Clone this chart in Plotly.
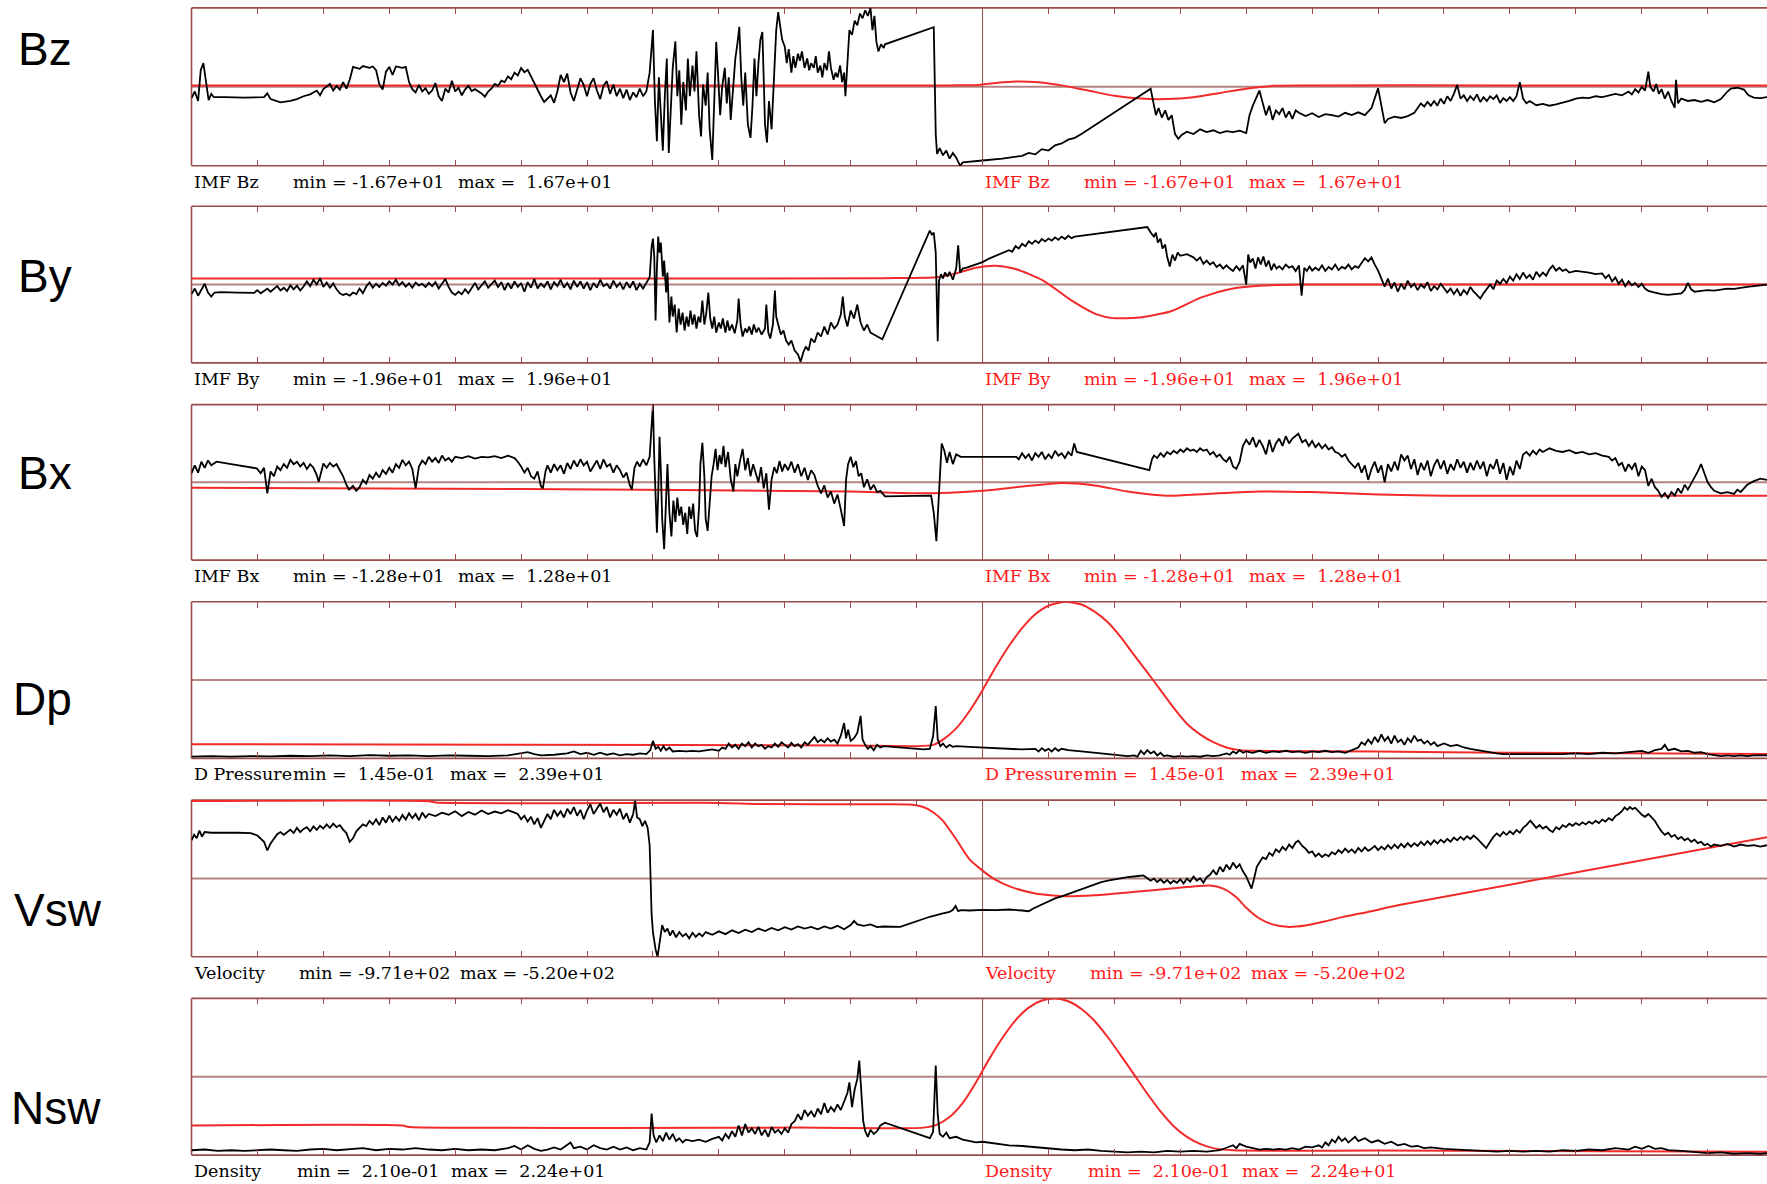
import plotly.graph_objects as go

# ---------------------------------------------------------------------------
# Time axis: hours from the start of the interval (one tick per hour).
# Black = observed upstream solar wind, red = propagated model values.
# ---------------------------------------------------------------------------
T_MAX = 23.9
T_MARK = 12.0

bz_obs = [(0.00,-2.4),(0.05,-1.0),(0.10,-3.0),(0.14,3.5),(0.18,5.0),(0.22,1.0),(0.26,-2.8),(0.30,-1.5),(0.34,-2.2),
    (0.5,-2.2),(0.8,-2.3),(1.1,-2.2),(1.15,-1.4),(1.2,-2.6),(1.35,-3.3),(1.5,-3.0),(1.6,-2.6),(1.7,-2.0),(1.8,-1.6),
    (1.9,-0.8),(1.95,-1.8),(2.0,-0.5),(2.1,0.6),(2.15,-0.8),(2.2,0.2),(2.25,-0.6),(2.3,1.0),(2.35,-0.4),(2.4,1.5),
    (2.45,4.2),(2.55,3.8),(2.6,4.4),(2.7,4.0),(2.75,4.3),(2.8,3.5),(2.85,0.5),(2.9,-0.6),(2.95,3.2),(3.0,4.2),(3.05,2.5),
    (3.1,4.3),(3.2,4.0),(3.25,4.2),(3.3,1.0),(3.35,-0.5),(3.4,-1.2),(3.45,0.4),(3.5,-1.0),(3.55,-0.3),(3.6,-1.5),
    (3.65,-0.8),(3.7,0.8),(3.75,-2.0),(3.8,-3.0),(3.85,-0.4),(3.9,-1.2),(3.95,1.3),(4.0,-1.0),(4.05,-0.2),(4.1,-1.8),
    (4.15,-0.6),(4.2,0.2),(4.25,-0.9),(4.3,-0.5),(4.4,-1.4),(4.45,-2.1),(4.5,-1.0),(4.55,-0.4),(4.6,0.6),(4.65,0.2),
    (4.7,1.3),(4.75,1.0),(4.8,2.2),(4.85,1.6),(4.9,3.0),(4.95,2.4),(5.0,4.0),(5.05,3.1),(5.1,3.6),(5.15,2.2),(5.2,0.8),
    (5.25,-0.8),(5.3,-2.0),(5.35,-3.2),(5.4,-2.6),(5.45,-1.8),(5.5,-3.4),(5.55,-1.0),(5.6,2.5),(5.65,1.0),(5.7,2.8),
    (5.75,-1.2),(5.8,-3.0),(5.85,-0.5),(5.9,1.8),(5.95,0.4),(6.0,-2.0),(6.05,0.6),(6.1,1.8),(6.15,-0.8),(6.2,-2.6),
    (6.25,0.2),(6.3,1.2),(6.35,-1.5),(6.4,0.5),(6.45,-2.0),(6.5,-0.4),(6.55,-2.4),(6.6,-0.6),(6.65,-2.8),(6.7,-1.2),
    (6.75,-2.2),(6.8,-0.4),(6.85,-2.0),(6.9,-1.0),(6.95,3.0),
    (7.0,12.0),(7.03,-3.0),(7.06,-11.5),(7.09,2.0),(7.12,-6.0),(7.15,-13.5),(7.18,-2.0),(7.21,6.0),(7.24,-14.0),
    (7.27,-4.0),(7.30,4.0),(7.34,9.6),(7.37,-2.0),(7.40,3.5),(7.43,-8.0),(7.46,1.0),(7.50,-5.0),(7.53,6.0),(7.56,-2.0),
    (7.60,4.5),(7.63,-1.0),(7.66,7.5),(7.70,-6.0),(7.73,-10.5),(7.76,0.5),(7.80,-4.0),(7.83,3.0),(7.86,-9.0),
    (7.90,-15.5),(7.93,-3.0),(7.96,9.5),(7.99,2.0),(8.02,-6.0),(8.05,0.0),(8.09,4.0),(8.12,-3.5),(8.15,2.0),(8.18,-7.0),
    (8.21,-2.0),(8.25,6.0),(8.28,9.0),(8.31,12.7),(8.34,2.0),(8.37,-4.0),(8.40,3.0),(8.44,-8.0),(8.48,-10.8),
    (8.51,-4.0),(8.54,6.0),(8.57,-2.0),(8.60,5.0),(8.63,10.0),(8.66,11.6),(8.70,-8.0),(8.73,-11.8),(8.76,-3.0),
    (8.80,-9.0),(8.84,2.0),(8.87,12.0),(8.90,15.8),
    (8.93,13.0),(8.96,10.0),(9.0,8.5),(9.03,5.0),(9.06,8.0),(9.1,3.0),(9.13,6.5),(9.16,4.0),(9.2,7.0),(9.23,5.5),
    (9.26,7.5),(9.3,4.0),(9.34,6.0),(9.37,3.5),(9.4,5.0),(9.44,4.0),(9.47,6.5),(9.5,3.0),(9.54,4.5),(9.57,2.0),
    (9.6,5.0),(9.64,3.5),(9.67,7.5),(9.7,4.0),(9.74,1.5),(9.77,3.0),(9.8,2.0),(9.84,4.5),(9.87,1.0),(9.9,3.0),
    (9.92,-2.0),(9.95,6.0),(9.98,12.0),(10.02,11.0),(10.06,14.0),(10.1,13.0),(10.14,15.5),(10.18,14.5),(10.22,16.2),
    (10.26,15.0),(10.3,16.7),(10.33,12.0),(10.36,15.0),(10.39,9.5),(10.42,7.5),(10.46,9.0),(10.5,8.2),(10.52,9.0),
    (11.26,12.6),(11.29,-10.0),(11.31,-14.2),(11.35,-13.0),(11.4,-14.5),(11.45,-13.5),(11.5,-15.2),(11.55,-14.0),
    (11.6,-15.0),(11.66,-16.7),(11.7,-16.0),(12.0,-15.6),(12.3,-15.2),(12.6,-14.6),(12.7,-14.0),(12.8,-14.3),
    (12.9,-13.2),(13.0,-13.5),(13.1,-12.4),(13.2,-12.0),(13.3,-11.2),(13.4,-10.8),(13.5,-10.0),(14.55,-0.4),
    (14.6,-4.0),(14.63,-6.0),(14.67,-4.5),(14.72,-6.5),(14.77,-5.0),(14.82,-7.0),(14.87,-6.0),(14.92,-10.0),
    (14.97,-11.0),(15.02,-10.2),(15.1,-9.5),(15.2,-10.0),(15.3,-9.0),(15.4,-9.6),(15.5,-9.2),(15.6,-9.8),(15.7,-9.4),
    (15.8,-9.6),(15.9,-9.3),(16.0,-9.8),(16.05,-6.0),(16.1,-4.0),(16.2,-0.8),(16.25,-3.5),(16.3,-6.0),(16.35,-4.0),
    (16.4,-7.0),(16.45,-5.0),(16.5,-5.8),(16.55,-4.5),(16.6,-6.5),(16.65,-5.2),(16.7,-6.8),(16.75,-5.0),(16.8,-5.5),
    (16.9,-6.2),(17.0,-5.6),(17.1,-6.4),(17.2,-5.8),(17.3,-6.0),(17.4,-6.3),(17.5,-5.5),(17.6,-6.0),(17.7,-5.4),
    (17.8,-6.0),(17.9,-4.5),(18.0,-0.3),(18.05,-4.0),(18.1,-7.7),(18.15,-6.8),(18.25,-6.3),(18.35,-6.6),(18.45,-6.2),
    (18.55,-5.5),(18.6,-4.5),(18.65,-3.5),(18.7,-4.2),(18.75,-3.2),(18.8,-4.0),(18.85,-3.0),(18.9,-4.0),(18.95,-2.5),
    (19.0,-3.6),(19.05,-2.0),(19.1,-3.0),(19.15,-1.5),(19.2,0.4),(19.25,-2.5),(19.3,-1.8),(19.35,-3.0),(19.4,-2.0),
    (19.45,-2.8),(19.5,-1.6),(19.55,-3.2),(19.6,-2.2),(19.65,-3.0),(19.7,-2.0),(19.75,-2.6),(19.8,-1.8),(19.85,-3.4),
    (19.9,-2.4),(19.95,-3.0),(20.0,-2.2),(20.05,-3.0),(20.1,-2.0),(20.15,1.0),(20.2,-2.5),(20.25,-3.5),(20.3,-3.0),
    (20.4,-3.9),(20.5,-3.6),(20.6,-4.0),(20.7,-3.7),(20.8,-3.4),(20.9,-3.0),(21.0,-2.5),(21.1,-2.3),(21.2,-2.4),
    (21.3,-2.0),(21.4,-2.2),(21.5,-1.8),(21.6,-1.5),(21.7,-1.8),(21.8,-1.0),(21.85,-1.6),(21.9,-0.5),(21.95,-1.2),
    (22.0,0.0),(22.05,-0.8),(22.1,3.2),(22.13,0.0),(22.18,-1.0),(22.22,0.6),(22.26,-1.5),(22.3,-0.5),(22.35,-2.5),
    (22.4,-1.0),(22.45,-3.0),(22.5,-4.4),(22.52,1.5),(22.55,-3.5),(22.6,-2.5),(22.7,-3.0),(22.8,-2.8),(22.9,-3.2),
    (23.0,-2.8),(23.1,-3.3),(23.2,-2.6),(23.3,-1.0),(23.35,-0.4),(23.45,-0.2),(23.55,-0.6),(23.62,-1.8),(23.7,-2.3),
    (23.8,-2.4),(23.9,-2.2)]

bz_model = [(0,0.3),(6,0.3),(11.5,0.3),(11.9,0.35),(12.2,0.8),(12.5,1.1),(12.8,1.0),(13.2,0.3),(13.6,-0.8),
    (14.0,-1.9),(14.4,-2.5),(14.8,-2.6),(15.2,-2.2),(15.6,-1.3),(16.0,-0.4),(16.4,0.2),(16.8,0.3),(20,0.3),(23.9,0.3)]

by_obs = [(0.0,-2.4),(0.05,-1.0),(0.1,-2.8),(0.15,-1.2),(0.2,0.2),(0.25,-2.0),(0.3,-3.0),(0.35,-2.0),(0.45,-1.9),
    (0.7,-2.0),(0.95,-2.1),(1.0,-1.4),(1.05,-2.2),(1.1,-1.6),(1.15,-1.0),(1.2,-1.8),(1.25,-1.2),(1.3,-0.4),(1.35,-1.5),
    (1.4,-0.8),(1.45,-1.6),(1.5,-0.2),(1.55,-1.2),(1.6,-0.3),(1.65,-1.5),(1.7,-0.5),(1.75,0.8),(1.8,-0.4),(1.85,1.2),
    (1.9,0.0),(1.95,1.6),(2.0,-0.6),(2.05,0.5),(2.1,-0.8),(2.15,0.3),(2.2,-1.2),(2.25,-2.2),(2.3,-2.6),(2.35,-2.3),
    (2.4,-2.8),(2.45,-2.0),(2.5,-2.4),(2.55,-1.0),(2.6,-2.2),(2.65,-0.5),(2.7,0.5),(2.75,-0.8),(2.8,0.2),(2.85,-0.6),
    (2.9,0.4),(2.95,-0.3),(3.0,0.8),(3.05,0.0),(3.1,1.2),(3.15,-0.2),(3.2,0.6),(3.25,-0.5),(3.3,0.3),(3.35,-0.8),
    (3.4,0.5),(3.45,-0.2),(3.5,0.2),(3.55,-0.6),(3.6,0.4),(3.65,-0.4),(3.7,0.6),(3.75,-1.0),(3.8,0.2),(3.85,1.4),
    (3.9,-0.6),(3.95,-2.0),(4.0,-2.6),(4.05,-1.8),(4.1,-2.4),(4.15,-1.2),(4.2,-2.2),(4.25,-1.0),(4.3,0.4),(4.35,-1.2),
    (4.4,-0.2),(4.45,0.8),(4.5,-0.8),(4.55,0.2),(4.6,1.0),(4.65,-0.6),(4.7,0.6),(4.75,-1.4),(4.8,0.4),(4.85,-1.0),
    (4.9,0.8),(4.95,-0.6),(5.0,0.4),(5.05,-1.8),(5.1,0.6),(5.15,-0.8),(5.2,1.4),(5.25,-1.0),(5.3,0.2),(5.35,-0.6),
    (5.4,0.8),(5.45,-1.2),(5.5,0.6),(5.55,-0.4),(5.6,1.2),(5.65,-0.8),(5.7,0.4),(5.75,-1.2),(5.8,1.0),(5.85,-0.6),
    (5.9,0.8),(5.95,-1.0),(6.0,0.6),(6.05,-1.4),(6.1,0.4),(6.15,-0.8),(6.2,1.2),(6.25,-0.4),(6.3,0.2),(6.35,-1.0),
    (6.4,1.0),(6.45,-0.6),(6.5,0.4),(6.55,-1.2),(6.6,0.6),(6.65,-0.8),(6.7,0.8),(6.75,-1.4),(6.8,0.2),(6.85,-1.0),
    (6.9,0.6),(6.95,1.8),(6.98,9.5),(7.0,11.5),(7.02,7.0),(7.04,-9.0),(7.06,4.0),(7.08,12.0),(7.1,8.0),(7.12,10.5),
    (7.15,2.0),(7.17,6.0),(7.2,-2.0),(7.22,3.0),(7.25,-9.5),(7.28,-3.0),(7.3,-8.0),(7.33,-5.0),(7.36,-12.0),(7.39,-6.0),
    (7.42,-10.0),(7.45,-7.0),(7.48,-11.5),(7.51,-8.0),(7.54,-10.5),(7.57,-6.5),(7.6,-10.0),(7.63,-7.5),(7.66,-11.0),
    (7.69,-8.0),(7.72,-9.5),(7.75,-4.0),(7.78,-10.0),(7.81,-7.0),(7.84,-2.0),(7.87,-8.5),(7.9,-11.0),(7.93,-8.0),
    (7.96,-12.0),(8.0,-9.5),(8.03,-11.0),(8.06,-8.5),(8.1,-12.0),(8.13,-9.0),(8.16,-11.5),(8.2,-10.0),(8.24,-12.2),
    (8.28,-9.0),(8.3,-3.5),(8.33,-10.0),(8.36,-13.0),(8.4,-11.0),(8.43,-12.0),(8.46,-10.5),(8.5,-12.5),(8.53,-10.0),
    (8.57,-12.0),(8.6,-10.8),(8.65,-12.5),(8.7,-11.0),(8.72,-5.0),(8.75,-12.0),(8.78,-13.5),(8.82,-10.0),(8.85,-1.5),
    (8.87,-8.0),(8.9,-10.0),(8.94,-12.5),(8.98,-11.5),(9.02,-14.0),(9.06,-15.0),(9.1,-14.0),(9.15,-16.5),(9.2,-17.5),
    (9.24,-19.3),(9.28,-17.0),(9.32,-15.5),(9.36,-16.5),(9.4,-13.5),(9.45,-14.5),(9.5,-12.0),(9.55,-13.0),(9.6,-10.5),
    (9.65,-12.5),(9.7,-9.5),(9.75,-11.0),(9.8,-10.0),(9.85,-7.5),(9.88,-3.0),(9.91,-8.0),(9.95,-10.5),(10.0,-6.5),
    (10.05,-8.5),(10.1,-5.0),(10.15,-9.5),(10.2,-11.5),(10.25,-10.0),(10.3,-12.0),(10.35,-12.5),(10.4,-13.0),
    (10.48,-13.7),(11.2,13.5),(11.23,12.5),(11.26,13.0),(11.29,8.0),(11.32,-14.2),(11.34,1.0),(11.37,2.6),(11.4,1.5),
    (11.43,3.0),(11.47,2.0),(11.5,3.2),(11.55,1.2),(11.6,4.0),(11.63,9.8),(11.66,3.0),(11.7,4.0),(11.77,4.3),
    (11.9,5.0),(12.0,5.6),(12.1,6.5),(12.2,7.2),(12.3,7.8),(12.4,8.6),(12.45,8.2),(12.5,9.6),(12.55,9.0),(12.6,10.2),
    (12.65,9.6),(12.7,10.8),(12.75,10.2),(12.8,11.0),(12.85,10.4),(12.9,11.4),(12.95,10.8),(13.0,11.5),(13.05,11.0),
    (13.1,11.8),(13.15,11.2),(13.2,12.0),(13.25,11.4),(13.3,12.2),(13.35,11.6),(13.4,12.0),(14.5,14.4),(14.55,13.0),
    (14.6,12.0),(14.63,13.0),(14.66,10.5),(14.7,11.5),(14.73,9.0),(14.77,10.0),(14.8,7.0),(14.84,4.5),(14.88,7.5),
    (14.92,6.0),(14.96,8.0),(15.0,7.2),(15.1,7.6),(15.2,6.8),(15.25,6.0),(15.3,6.8),(15.35,5.2),(15.4,6.0),(15.45,5.0),
    (15.5,5.6),(15.55,4.4),(15.6,5.0),(15.65,4.0),(15.7,4.8),(15.75,4.0),(15.8,3.4),(15.85,4.6),(15.9,3.6),(15.95,4.8),
    (16.0,0.0),(16.03,7.5),(16.06,5.5),(16.1,6.5),(16.14,4.0),(16.18,6.8),(16.22,5.0),(16.26,7.0),(16.3,4.5),(16.34,6.0),
    (16.38,3.6),(16.42,5.2),(16.46,4.0),(16.5,4.6),(16.55,3.8),(16.6,5.0),(16.65,4.2),(16.7,4.6),(16.75,3.4),(16.8,4.8),
    (16.84,-2.8),(16.88,4.2),(16.92,3.4),(16.96,4.5),(17.0,3.5),(17.05,4.2),(17.1,3.6),(17.15,4.8),(17.2,3.4),
    (17.25,4.4),(17.3,3.8),(17.35,5.0),(17.4,3.6),(17.45,4.4),(17.5,4.0),(17.55,5.0),(17.6,3.8),(17.65,4.6),(17.7,4.2),
    (17.75,5.4),(17.8,6.6),(17.85,5.8),(17.9,6.8),(17.95,5.0),(18.0,3.5),(18.05,1.5),(18.1,-0.5),(18.15,1.5),
    (18.2,-1.0),(18.25,0.5),(18.3,-1.8),(18.35,0.2),(18.4,-1.2),(18.45,1.0),(18.5,-0.6),(18.55,0.2),(18.6,-1.4),
    (18.65,0.0),(18.7,-0.8),(18.75,0.6),(18.8,-1.6),(18.85,-0.4),(18.9,-1.2),(18.95,0.2),(19.0,-0.8),(19.05,-2.0),
    (19.1,-1.0),(19.15,-2.4),(19.2,-1.2),(19.25,-2.8),(19.3,-1.4),(19.35,-2.4),(19.4,-0.6),(19.45,-1.8),(19.5,-2.6),
    (19.55,-3.5),(19.6,-2.2),(19.65,-1.0),(19.7,0.0),(19.75,-1.2),(19.8,1.0),(19.85,0.2),(19.9,1.4),(19.95,0.4),
    (20.0,2.0),(20.05,1.0),(20.1,2.6),(20.15,1.4),(20.2,3.0),(20.25,1.6),(20.3,2.4),(20.35,1.2),(20.4,3.2),(20.45,2.0),
    (20.5,3.0),(20.55,2.2),(20.6,3.8),(20.65,4.7),(20.7,3.5),(20.75,4.2),(20.8,3.4),(20.85,3.8),(20.9,3.0),(21.0,3.4),
    (21.1,3.2),(21.2,3.0),(21.3,2.6),(21.4,2.8),(21.45,1.6),(21.5,2.4),(21.55,0.8),(21.6,1.8),(21.65,0.2),(21.7,1.2),
    (21.75,-0.4),(21.8,0.8),(21.85,-0.2),(21.9,0.4),(21.95,-0.6),(22.0,0.2),(22.05,-1.0),(22.1,-1.6),(22.2,-2.0),
    (22.3,-2.4),(22.4,-2.6),(22.5,-2.4),(22.6,-2.2),(22.65,-1.4),(22.7,0.4),(22.75,-1.2),(22.8,-1.8),(22.9,-1.6),
    (23.0,-1.4),(23.1,-1.5),(23.2,-1.2),(23.3,-1.0),(23.4,-1.1),(23.5,-0.8),(23.6,-0.6),(23.7,-0.4),(23.8,-0.2),
    (23.9,0.0)]

by_model = [(0,1.5),(6,1.5),(10.5,1.6),(11.3,1.8),(11.6,2.8),(11.9,4.2),(12.2,4.7),(12.5,3.9),(12.92,1.0),
    (13.36,-4.1),(13.72,-7.4),(13.98,-8.4),(14.42,-8.2),(14.87,-6.6),(15.32,-3.2),(15.76,-1.1),(16.2,-0.3),
    (16.8,0.0),(20,0.0),(23.9,0.0)]

bx_obs = [(0.0,1.5),(0.05,2.8),(0.1,1.6),(0.15,3.4),(0.2,2.4),(0.25,3.6),(0.3,2.8),(0.38,3.4),(0.6,3.0),(0.85,2.6),
    (0.99,2.3),(1.05,1.5),(1.1,2.4),(1.15,-1.8),(1.2,1.8),(1.25,1.0),(1.3,2.6),(1.35,2.0),(1.4,3.0),(1.45,2.4),
    (1.5,3.7),(1.55,3.0),(1.6,3.4),(1.65,2.6),(1.7,3.2),(1.75,2.2),(1.8,3.0),(1.85,2.4),(1.9,1.2),(1.93,0.1),(1.97,2.0),
    (2.0,3.1),(2.05,2.4),(2.1,3.2),(2.15,2.6),(2.2,3.0),(2.25,2.0),(2.3,1.0),(2.35,-0.4),(2.39,-1.2),(2.45,-0.6),
    (2.5,-1.4),(2.55,-0.8),(2.6,0.4),(2.65,-0.2),(2.7,1.2),(2.75,0.6),(2.8,1.6),(2.85,0.8),(2.9,2.0),(2.95,1.4),
    (3.0,2.4),(3.05,1.6),(3.1,3.0),(3.15,2.4),(3.2,3.7),(3.25,2.8),(3.3,3.4),(3.35,2.2),(3.4,-1.0),(3.45,2.6),(3.5,3.6),
    (3.55,3.0),(3.6,4.2),(3.65,3.4),(3.7,4.0),(3.75,3.2),(3.8,4.4),(3.85,3.6),(3.9,4.0),(3.95,3.4),(4.0,4.2),(4.1,4.0),
    (4.2,4.3),(4.3,3.9),(4.4,4.2),(4.5,4.1),(4.6,4.3),(4.7,4.0),(4.8,4.4),(4.9,4.0),(4.95,3.4),(5.0,2.6),(5.05,1.6),
    (5.1,2.4),(5.15,1.0),(5.2,0.6),(5.25,1.8),(5.3,-0.6),(5.33,-1.0),(5.37,1.8),(5.4,2.8),(5.45,1.6),(5.5,3.0),
    (5.55,2.0),(5.6,2.8),(5.65,1.4),(5.7,3.2),(5.75,2.2),(5.8,3.6),(5.85,2.6),(5.9,3.8),(5.95,2.8),(6.0,3.4),(6.05,1.8),
    (6.1,2.6),(6.15,3.6),(6.2,2.2),(6.25,3.8),(6.3,2.6),(6.35,3.0),(6.4,1.6),(6.45,2.8),(6.5,2.0),(6.55,0.8),(6.6,1.6),
    (6.65,-0.5),(6.68,-1.2),(6.72,2.4),(6.76,3.4),(6.8,2.6),(6.85,3.8),(6.9,2.8),(6.95,4.2),(6.98,9.0),(7.0,12.8),
    (7.02,4.0),(7.04,-4.0),(7.06,-8.3),(7.08,-2.0),(7.1,7.5),(7.12,2.0),(7.14,-6.0),(7.17,-11.0),(7.2,-4.0),(7.22,3.0),
    (7.25,-5.0),(7.28,-8.9),(7.31,-3.0),(7.34,-6.5),(7.37,-2.5),(7.4,-5.5),(7.43,-4.0),(7.46,-7.0),(7.49,-5.0),
    (7.52,-8.5),(7.55,-4.0),(7.58,-6.0),(7.61,-3.5),(7.64,-8.0),(7.67,-9.0),(7.7,-4.0),(7.72,3.0),(7.75,6.5),(7.78,1.0),
    (7.8,-6.0),(7.83,-8.0),(7.86,-3.0),(7.89,1.0),(7.92,3.0),(7.95,5.5),(7.98,2.0),(8.01,4.5),(8.04,3.0),(8.07,6.0),
    (8.1,2.5),(8.14,5.0),(8.18,0.5),(8.22,-1.5),(8.25,3.0),(8.28,1.0),(8.32,3.5),(8.36,5.5),(8.4,2.0),(8.44,4.0),
    (8.48,1.0),(8.52,3.0),(8.56,1.5),(8.6,0.0),(8.64,2.5),(8.68,-1.0),(8.72,1.5),(8.76,-4.5),(8.8,0.5),(8.84,2.5),
    (8.88,1.5),(8.92,3.5),(8.96,1.8),(9.0,3.0),(9.05,2.0),(9.1,3.4),(9.15,1.6),(9.2,3.0),(9.25,1.0),(9.3,2.4),(9.35,0.4),
    (9.4,2.0),(9.45,1.2),(9.5,-0.6),(9.55,-1.8),(9.6,-0.5),(9.65,-2.5),(9.7,-1.5),(9.75,-3.5),(9.8,-2.0),(9.85,-4.5),
    (9.9,-7.2),(9.93,0.5),(9.96,3.0),(10.0,4.2),(10.04,2.5),(10.08,3.5),(10.12,1.0),(10.16,1.5),(10.2,-0.8),(10.25,0.5),
    (10.3,-1.2),(10.35,-0.4),(10.4,-1.6),(10.45,-1.4),(10.52,-2.3),(11.22,-2.2),(11.26,-5.0),(11.3,-9.7),(11.34,-2.0),
    (11.38,6.4),(11.42,5.2),(11.46,3.2),(11.5,5.0),(11.55,3.0),(11.6,4.6),(11.67,4.2),(12.51,4.2),(12.55,3.8),(12.6,4.8),
    (12.65,4.0),(12.7,4.6),(12.75,3.6),(12.8,4.8),(12.85,4.2),(12.9,5.0),(12.95,3.8),(13.0,4.6),(13.05,4.0),(13.1,5.2),
    (13.15,4.4),(13.2,4.8),(13.25,4.0),(13.3,5.0),(13.35,4.4),(13.39,6.4),(13.43,5.0),(14.53,2.0),(14.57,3.8),(14.6,4.4),
    (14.65,4.0),(14.7,4.8),(14.75,4.2),(14.8,5.0),(14.85,4.6),(14.9,5.2),(14.95,4.8),(15.0,5.4),(15.05,5.0),(15.1,5.6),
    (15.15,5.2),(15.2,5.4),(15.25,5.0),(15.3,5.6),(15.35,5.2),(15.4,5.4),(15.45,4.6),(15.5,5.0),(15.55,4.2),(15.6,4.6),
    (15.65,3.8),(15.7,3.4),(15.75,4.2),(15.8,2.6),(15.85,2.2),(15.9,3.4),(15.95,6.0),(16.0,7.0),(16.05,6.2),(16.1,7.4),
    (16.15,5.8),(16.2,7.0),(16.25,6.0),(16.3,4.6),(16.35,7.0),(16.4,5.0),(16.45,6.4),(16.5,7.2),(16.55,6.0),(16.6,7.6),
    (16.65,6.4),(16.7,7.2),(16.75,7.6),(16.79,8.0),(16.85,6.6),(16.9,7.0),(16.95,6.0),(17.0,6.8),(17.05,5.8),(17.1,6.4),
    (17.15,5.6),(17.2,6.2),(17.25,5.4),(17.3,5.8),(17.35,5.0),(17.4,4.8),(17.45,4.2),(17.5,4.6),(17.55,3.6),(17.6,3.0),
    (17.65,2.4),(17.7,3.2),(17.75,1.6),(17.8,2.8),(17.85,0.4),(17.9,2.2),(17.95,3.4),(18.0,1.6),(18.05,2.8),(18.1,0.0),
    (18.15,3.0),(18.2,1.8),(18.25,3.4),(18.3,2.0),(18.35,4.6),(18.4,3.6),(18.45,4.4),(18.5,2.2),(18.55,3.8),(18.6,1.2),
    (18.65,3.2),(18.7,2.0),(18.75,3.6),(18.8,1.0),(18.85,2.8),(18.9,3.8),(18.95,2.2),(19.0,3.6),(19.05,1.4),(19.1,3.0),
    (19.15,2.0),(19.2,3.8),(19.25,2.4),(19.3,3.4),(19.35,1.6),(19.4,3.2),(19.45,2.0),(19.5,3.6),(19.55,2.2),(19.6,3.4),
    (19.65,1.0),(19.7,3.0),(19.75,2.2),(19.8,3.8),(19.85,1.4),(19.9,3.2),(19.95,0.4),(20.0,2.6),(20.05,1.2),(20.1,3.6),
    (20.15,2.2),(20.2,4.6),(20.25,5.0),(20.3,4.4),(20.35,5.2),(20.4,4.6),(20.45,5.4),(20.5,5.0),(20.6,5.6),(20.7,5.2),
    (20.8,5.0),(20.9,5.3),(21.0,4.8),(21.1,5.0),(21.2,4.6),(21.3,4.8),(21.4,4.4),(21.5,4.2),(21.55,3.6),(21.6,4.0),
    (21.65,2.8),(21.7,3.2),(21.75,1.8),(21.8,3.0),(21.85,2.2),(21.9,3.2),(21.95,1.0),(22.0,2.6),(22.05,2.0),(22.1,-0.6),
    (22.15,0.6),(22.2,-0.8),(22.25,-1.4),(22.3,-2.4),(22.35,-1.8),(22.4,-2.6),(22.45,-1.6),(22.5,-2.2),(22.55,-1.0),
    (22.6,-1.8),(22.65,-0.4),(22.7,-1.2),(22.75,-0.2),(22.8,0.6),(22.85,1.8),(22.9,3.0),(22.95,1.4),(23.0,0.0),
    (23.05,-0.8),(23.1,-1.4),(23.2,-1.8),(23.3,-1.6),(23.4,-1.9),(23.45,-1.2),(23.5,-1.6),(23.6,-0.4),(23.7,0.2),
    (23.8,0.6),(23.9,0.4)]

bx_model = [(0,-0.9),(5,-1.1),(10,-1.5),(11.0,-1.8),(11.5,-1.7),(12.0,-1.4),(12.6,-0.7),(13.2,-0.1),(13.7,-0.5),
    (14.2,-1.5),(14.8,-2.2),(15.4,-1.9),(16.2,-1.5),(17.0,-1.6),(18.0,-2.0),(19.0,-2.2),(23.9,-2.2)]

dp_obs = [(0.0,0.4),(0.3,0.5),(0.6,0.4),(0.9,0.5),(1.2,0.45),(1.5,0.55),(1.8,0.5),(2.1,0.6),(2.4,0.5),(2.7,0.65),
    (3.0,0.55),(3.3,0.6),(3.6,0.5),(3.9,0.6),(4.2,0.55),(4.5,0.5),(4.8,0.6),(5.0,0.9),(5.1,1.1),(5.2,0.8),(5.3,0.6),
    (5.5,0.7),(5.7,0.9),(5.8,1.2),(5.9,0.8),(6.0,1.0),(6.1,0.7),(6.2,1.0),(6.3,0.7),(6.4,0.9),(6.5,0.6),(6.6,0.8),
    (6.7,0.7),(6.8,0.9),(6.9,0.8),(6.96,1.4),(7.0,2.8),(7.04,1.6),(7.08,1.9),(7.12,1.3),(7.16,2.0),(7.2,1.4),(7.25,1.8),
    (7.3,1.2),(7.4,1.3),(7.5,1.2),(7.6,1.3),(7.7,1.2),(7.8,1.4),(7.9,1.5),(8.0,1.3),(8.05,1.8),(8.1,1.6),(8.15,2.4),
    (8.2,1.8),(8.25,2.2),(8.3,1.6),(8.35,2.4),(8.4,2.0),(8.45,2.6),(8.5,1.8),(8.55,2.4),(8.6,2.0),(8.65,2.2),(8.7,1.6),
    (8.75,2.0),(8.8,1.8),(8.85,2.4),(8.9,1.9),(8.95,2.6),(9.0,2.2),(9.05,1.8),(9.1,2.5),(9.15,2.0),(9.2,2.3),(9.25,1.8),
    (9.3,2.6),(9.35,2.2),(9.4,2.8),(9.45,3.4),(9.5,2.6),(9.55,3.0),(9.6,2.6),(9.65,3.2),(9.7,2.7),(9.75,3.0),(9.8,2.4),
    (9.85,3.6),(9.9,5.5),(9.93,3.2),(9.96,4.5),(10.0,2.8),(10.05,3.2),(10.1,4.0),(10.15,6.6),(10.18,3.0),(10.22,2.2),
    (10.26,1.6),(10.3,2.0),(10.35,1.4),(10.4,2.2),(10.45,1.8),(10.5,2.0),(10.6,1.9),(10.7,1.8),(10.8,1.7),(10.9,1.6),
    (11.0,1.5),(11.1,1.5),(11.2,1.6),(11.25,3.5),(11.29,8.1),(11.32,3.0),(11.36,2.0),(11.4,2.4),(11.45,1.8),(11.5,2.2),
    (11.55,1.9),(11.6,2.0),(11.8,1.9),(12.0,1.8),(12.3,1.7),(12.6,1.5),(12.8,1.6),(12.85,1.2),(12.9,1.7),(12.95,1.3),
    (13.0,1.6),(13.05,1.2),(13.1,1.7),(13.15,1.3),(13.2,1.6),(13.3,1.4),(13.5,1.2),(13.7,1.0),(13.9,0.9),(14.1,0.7),
    (14.2,0.5),(14.3,0.6),(14.35,0.4),(14.4,1.3),(14.45,0.8),(14.5,1.4),(14.55,0.9),(14.6,1.2),(14.65,0.6),(14.7,1.0),
    (14.75,0.5),(14.8,0.6),(14.9,0.4),(15.0,0.5),(15.1,0.4),(15.2,0.5),(15.3,0.4),(15.4,0.6),(15.5,0.5),(15.6,0.6),
    (15.7,0.9),(15.75,0.7),(15.8,1.2),(15.85,0.9),(15.9,1.4),(15.95,1.0),(16.0,1.2),(16.1,1.0),(16.2,1.3),(16.3,1.0),
    (16.4,1.2),(16.5,1.1),(16.6,1.3),(16.7,1.1),(16.8,1.2),(16.9,1.0),(17.0,1.2),(17.1,1.1),(17.2,1.3),(17.3,1.1),
    (17.4,1.2),(17.5,1.0),(17.6,1.4),(17.7,1.8),(17.75,2.6),(17.8,2.2),(17.85,3.0),(17.9,2.4),(17.95,3.4),(18.0,2.6),
    (18.05,3.8),(18.1,2.8),(18.15,3.4),(18.2,2.4),(18.25,3.6),(18.3,2.6),(18.35,3.0),(18.4,2.2),(18.45,3.2),(18.5,2.6),
    (18.55,3.6),(18.6,2.8),(18.65,3.0),(18.7,2.4),(18.75,2.8),(18.8,2.2),(18.85,2.6),(18.9,2.0),(19.0,2.4),(19.1,2.0),
    (19.2,2.2),(19.3,1.8),(19.4,1.6),(19.5,1.4),(19.6,1.2),(19.7,1.1),(19.8,0.9),(19.9,0.8),(20.0,0.8),(20.2,0.7),
    (20.4,0.8),(20.6,0.7),(20.8,0.8),(21.0,0.9),(21.2,0.8),(21.4,1.0),(21.6,0.9),(21.8,1.1),(22.0,1.3),(22.1,1.0),
    (22.2,1.4),(22.3,1.6),(22.35,2.2),(22.4,1.4),(22.5,1.6),(22.6,1.2),(22.7,1.3),(22.8,1.0),(22.9,1.1),(23.0,0.8),
    (23.1,0.7),(23.2,0.5),(23.3,0.6),(23.4,0.5),(23.5,0.6),(23.6,0.5),(23.7,0.6),(23.8,0.55),(23.9,0.6)]

dp_model = [(0,2.3),(5,2.2),(10,2.1),(11.0,2.0),(11.25,2.2),(11.4,3.0),(11.6,4.7),(11.8,7.3),(12.0,10.5),(12.2,14.0),
    (12.4,17.2),(12.6,19.9),(12.8,22.0),(13.0,23.3),(13.25,23.9),(13.5,23.5),(13.7,22.4),(13.9,20.8),(14.1,18.5),
    (14.3,15.8),(14.5,13.2),(14.7,10.5),(14.9,7.8),(15.1,5.4),(15.3,3.8),(15.5,2.6),(15.7,1.8),(15.9,1.4),(16.1,1.3),
    (18,1.2),(20,1.0),(23.9,0.8)]

vsw_obs = [(0.0,-636),(0.04,-620),(0.08,-630),(0.12,-608),(0.16,-625),(0.2,-612),(0.3,-614),(0.5,-613),(0.7,-614),
    (0.9,-615),(1.0,-622),(1.1,-640),(1.15,-665),(1.2,-645),(1.25,-630),(1.3,-618),(1.35,-612),(1.4,-620),(1.5,-605),
    (1.55,-615),(1.6,-600),(1.65,-612),(1.7,-603),(1.75,-598),(1.8,-610),(1.85,-596),(1.9,-606),(1.95,-594),(2.0,-602),
    (2.05,-590),(2.1,-600),(2.15,-588),(2.2,-598),(2.25,-592),(2.3,-605),(2.35,-615),(2.4,-640),(2.45,-630),(2.5,-610),
    (2.55,-600),(2.6,-590),(2.65,-595),(2.7,-580),(2.75,-590),(2.8,-575),(2.85,-592),(2.9,-570),(2.95,-585),(3.0,-565),
    (3.05,-582),(3.1,-568),(3.15,-580),(3.2,-563),(3.25,-576),(3.3,-558),(3.35,-572),(3.4,-560),(3.45,-578),(3.5,-556),
    (3.55,-570),(3.6,-560),(3.7,-566),(3.8,-556),(3.9,-562),(4.0,-552),(4.1,-566),(4.2,-554),(4.3,-562),(4.4,-550),
    (4.5,-560),(4.6,-553),(4.7,-558),(4.8,-549),(4.9,-556),(4.95,-560),(5.0,-575),(5.05,-565),(5.1,-582),(5.15,-568),
    (5.2,-590),(5.25,-572),(5.3,-600),(5.35,-578),(5.4,-560),(5.45,-575),(5.5,-548),(5.55,-565),(5.6,-552),(5.65,-570),
    (5.7,-545),(5.75,-560),(5.8,-540),(5.85,-565),(5.9,-548),(5.95,-575),(6.0,-550),(6.05,-532),(6.1,-560),(6.15,-545),
    (6.2,-530),(6.25,-555),(6.3,-540),(6.35,-570),(6.4,-548),(6.45,-562),(6.5,-545),(6.55,-575),(6.6,-558),(6.65,-585),
    (6.7,-560),(6.73,-522),(6.76,-570),(6.8,-575),(6.84,-595),(6.88,-580),(6.92,-600),(6.95,-650),(6.98,-850),
    (7.0,-900),(7.04,-950),(7.07,-971),(7.1,-930),(7.14,-880),(7.18,-900),(7.22,-890),(7.26,-910),(7.3,-895),
    (7.35,-915),(7.4,-900),(7.45,-912),(7.5,-905),(7.55,-918),(7.6,-902),(7.65,-914),(7.7,-904),(7.75,-912),(7.8,-900),
    (7.9,-908),(8.0,-898),(8.1,-906),(8.2,-895),(8.3,-903),(8.4,-893),(8.5,-900),(8.6,-890),(8.7,-897),(8.8,-888),
    (8.9,-895),(9.0,-886),(9.1,-893),(9.2,-884),(9.3,-890),(9.4,-885),(9.5,-892),(9.6,-884),(9.7,-890),(9.8,-882),
    (9.9,-892),(10.0,-880),(10.05,-868),(10.1,-878),(10.2,-882),(10.3,-878),(10.4,-886),(10.5,-884),(10.75,-885),
    (11.0,-868),(11.2,-856),(11.4,-846),(11.5,-842),(11.55,-836),(11.59,-825),(11.63,-840),(11.67,-837),(11.8,-838),
    (12.0,-836),(12.2,-837),(12.4,-835),(12.6,-838),(12.7,-840),(12.77,-832),(12.9,-820),(13.0,-812),(13.1,-803),
    (13.2,-797),(13.3,-790),(13.4,-783),(13.5,-775),(13.6,-768),(13.7,-762),(13.8,-756),(13.9,-752),(14.0,-748),
    (14.1,-745),(14.2,-742),(14.3,-740),(14.44,-737),(14.5,-745),(14.55,-752),(14.6,-746),(14.65,-756),(14.7,-748),
    (14.75,-758),(14.8,-750),(14.85,-760),(14.9,-752),(14.95,-758),(15.0,-748),(15.05,-760),(15.1,-746),(15.15,-755),
    (15.2,-740),(15.25,-752),(15.3,-745),(15.35,-758),(15.4,-742),(15.45,-735),(15.5,-722),(15.55,-735),(15.6,-712),
    (15.65,-726),(15.7,-706),(15.75,-720),(15.8,-700),(15.85,-715),(15.9,-705),(15.95,-725),
    (16.0,-740),(16.04,-760),(16.08,-775),(16.12,-745),(16.16,-712),(16.2,-700),(16.25,-685),(16.3,-690),(16.35,-672),
    (16.4,-680),(16.45,-662),(16.5,-670),(16.55,-655),(16.6,-664),(16.65,-648),(16.7,-658),(16.75,-642),(16.79,-637),
    (16.85,-652),(16.9,-660),(16.95,-672),(17.0,-668),(17.05,-682),(17.1,-674),(17.15,-684),(17.2,-676),(17.25,-682),
    (17.3,-670),(17.35,-676),(17.4,-664),(17.45,-672),(17.5,-660),(17.55,-670),(17.6,-662),(17.65,-672),(17.7,-658),
    (17.75,-668),(17.8,-656),(17.85,-666),(17.9,-660),(17.95,-652),(18.0,-664),(18.05,-654),(18.1,-662),(18.15,-650),
    (18.2,-660),(18.25,-648),(18.3,-658),(18.35,-646),(18.4,-656),(18.45,-644),(18.5,-654),(18.55,-644),(18.6,-652),
    (18.65,-640),(18.7,-650),(18.75,-638),(18.8,-648),(18.85,-636),(18.9,-645),(18.95,-634),(19.0,-642),(19.05,-632),
    (19.1,-640),(19.15,-628),(19.2,-636),(19.25,-626),(19.3,-634),(19.35,-624),(19.4,-632),(19.45,-622),(19.5,-630),
    (19.55,-640),(19.6,-652),(19.64,-658),(19.7,-640),(19.75,-626),(19.8,-616),(19.85,-624),(19.9,-612),(19.95,-620),
    (20.0,-610),(20.05,-618),(20.1,-606),(20.15,-614),(20.2,-600),(20.25,-592),(20.31,-579),(20.36,-590),(20.4,-600),
    (20.45,-592),(20.5,-602),(20.55,-596),(20.6,-606),(20.65,-612),(20.7,-598),(20.75,-604),(20.8,-592),(20.85,-598),
    (20.9,-588),(20.95,-594),(21.0,-586),(21.05,-592),(21.1,-584),(21.15,-590),(21.2,-582),(21.25,-588),(21.3,-580),
    (21.35,-586),(21.4,-576),(21.45,-582),(21.5,-572),(21.55,-578),(21.6,-566),(21.65,-560),(21.7,-552),(21.74,-541),
    (21.78,-548),(21.82,-540),(21.86,-546),(21.9,-542),(21.95,-552),(22.0,-562),(22.05,-568),(22.1,-560),(22.16,-572),
    (22.2,-580),(22.25,-596),(22.3,-610),(22.35,-620),(22.4,-614),(22.45,-626),(22.5,-620),(22.55,-632),(22.6,-626),
    (22.65,-636),(22.7,-630),(22.75,-640),(22.8,-634),(22.85,-644),(22.9,-640),(22.95,-650),(23.0,-646),(23.05,-654),
    (23.1,-648),(23.2,-652),(23.3,-646),(23.4,-654),(23.5,-648),(23.6,-652),(23.7,-650),(23.8,-654),(23.9,-650)]

vsw_model = [(0,-522.5),(3.6,-523),(3.7,-527),(8.0,-528),(8.6,-531),(10.5,-532),(10.9,-533),(11.1,-540),(11.25,-555),
    (11.4,-580),(11.59,-630),(11.8,-690),(12.0,-723),(12.2,-750),(12.43,-770),(12.8,-789),(13.27,-797),(13.7,-794),
    (14.27,-785),(14.9,-774),(15.45,-766),(15.65,-775),(15.85,-800),(16.0,-830),(16.2,-861),(16.4,-878),(16.62,-885),
    (16.9,-881),(17.2,-869),(17.46,-857),(17.9,-840),(18.3,-823),(23.9,-627)]

nsw_obs = [(0.0,0.9),(0.2,1.0),(0.4,0.8),(0.6,0.9),(0.8,0.8),(1.0,0.9),(1.2,1.0),(1.4,0.9),(1.6,0.8),(1.8,1.0),
    (2.0,1.1),(2.2,0.9),(2.4,1.0),(2.6,1.2),(2.8,0.9),(3.0,1.1),(3.2,1.0),(3.4,1.2),(3.6,1.0),(3.8,0.9),(4.0,1.1),
    (4.2,0.9),(4.4,1.0),(4.6,0.9),(4.8,1.2),(4.9,1.5),(5.0,1.0),(5.1,1.6),(5.2,1.1),(5.3,0.8),(5.4,1.0),(5.5,1.3),
    (5.6,1.0),(5.7,1.6),(5.75,2.0),(5.8,1.2),(5.9,1.4),(6.0,1.0),(6.1,1.6),(6.2,1.2),(6.3,1.0),(6.4,1.4),(6.5,1.0),
    (6.6,1.3),(6.7,0.9),(6.8,1.2),(6.9,1.0),(6.95,2.0),(6.98,6.1),(7.01,3.0),(7.05,2.0),(7.1,3.0),(7.15,2.2),(7.2,3.4),
    (7.25,2.4),(7.3,3.2),(7.35,2.2),(7.4,2.6),(7.45,2.0),(7.5,2.4),(7.6,2.2),(7.7,2.4),(7.8,2.1),(7.9,2.5),(8.0,2.8),
    (8.05,2.3),(8.1,3.2),(8.15,2.6),(8.2,3.6),(8.25,2.8),(8.3,4.4),(8.35,3.0),(8.4,4.6),(8.45,3.4),(8.5,4.0),(8.55,3.2),
    (8.6,4.2),(8.65,3.0),(8.7,3.8),(8.75,2.8),(8.8,4.2),(8.85,3.4),(8.9,3.8),(8.95,3.2),(9.0,4.0),(9.05,3.4),(9.1,4.6),
    (9.15,5.0),(9.2,6.0),(9.25,5.2),(9.3,6.6),(9.35,5.8),(9.4,6.4),(9.45,5.6),(9.5,6.8),(9.55,6.0),(9.6,7.6),(9.65,6.2),
    (9.7,7.0),(9.75,6.4),(9.8,7.4),(9.85,6.6),(9.9,7.8),(9.95,9.0),(9.98,10.5),(10.02,7.0),(10.06,9.5),(10.1,11.0),
    (10.13,13.6),(10.16,9.0),(10.19,5.0),(10.22,3.6),(10.26,2.8),(10.3,3.8),(10.35,3.2),(10.4,3.6),(10.45,4.4),
    (10.52,4.8),(11.2,2.6),(11.25,3.5),(11.29,12.9),(11.32,6.0),(11.35,3.2),(11.4,2.8),(11.45,3.4),(11.5,2.6),(11.6,2.8),
    (11.7,2.4),(11.8,2.2),(11.9,2.0),(12.0,2.1),(12.2,1.8),(12.4,1.6),(12.6,1.5),(12.8,1.3),(13.0,1.2),(13.2,1.0),
    (13.4,0.9),(13.6,1.0),(13.8,0.8),(14.0,0.7),(14.2,0.6),(14.4,0.7),(14.6,0.6),(14.8,0.8),(15.0,0.7),(15.2,0.8),
    (15.4,0.7),(15.6,0.9),(15.8,1.6),(15.85,1.2),(15.9,1.8),(16.0,1.4),(16.1,1.2),(16.2,1.0),(16.3,1.1),(16.4,1.0),
    (16.5,1.1),(16.6,1.0),(16.7,1.2),(16.8,1.0),(16.9,1.4),(17.0,1.3),(17.1,1.6),(17.15,1.3),(17.2,2.0),(17.25,1.6),
    (17.3,2.4),(17.35,2.0),(17.4,2.8),(17.45,2.2),(17.5,2.6),(17.55,2.0),(17.6,2.4),(17.65,2.8),(17.7,2.2),(17.8,2.6),
    (17.9,2.0),(18.0,2.3),(18.1,1.8),(18.2,2.1),(18.3,1.6),(18.4,1.8),(18.5,1.4),(18.6,1.5),(18.7,1.2),(18.8,1.3),
    (19.0,1.1),(19.2,1.0),(19.4,0.9),(19.6,0.8),(19.8,0.7),(20.0,0.8),(20.2,0.7),(20.4,0.8),(20.6,0.7),(20.8,0.9),
    (21.0,0.8),(21.2,1.0),(21.4,0.9),(21.6,1.2),(21.8,1.0),(21.9,1.4),(22.0,1.1),(22.1,1.5),(22.2,1.1),(22.3,1.2),
    (22.4,0.9),(22.6,0.8),(22.8,0.6),(23.0,0.5),(23.2,0.6),(23.4,0.4),(23.6,0.5),(23.8,0.4),(23.9,0.5)]

nsw_model = [(0,4.4),(3.2,4.4),(3.3,4.2),(9.5,4.1),(10.5,4.0),(11.1,4.1),(11.3,4.5),(11.5,5.6),(11.7,7.6),(11.9,10.5),
    (12.1,13.8),(12.3,16.8),(12.5,19.3),(12.7,21.1),(12.9,22.1),(13.1,22.4),(13.3,22.0),(13.5,20.9),(13.7,19.2),
    (13.9,16.9),(14.1,14.3),(14.3,11.6),(14.5,8.9),(14.7,6.4),(14.9,4.3),(15.1,2.8),(15.3,1.8),(15.5,1.2),(15.8,0.9),
    (18,0.85),(23.9,0.7)]

# Panel names, value ranges and the caption strings printed under each panel
panel_names = ["Bz", "By", "Bx", "Dp", "Vsw", "Nsw"]
caption_names = ["IMF Bz", "IMF By", "IMF Bx", "D Pressure", "Velocity", "Density"]
range_min = [-16.7, -19.6, -12.8, 0.145, -971.0, 0.21]
range_max = [16.7, 19.6, 12.8, 23.9, -520.0, 22.4]
min_text = ["-1.67e+01", "-1.96e+01", "-1.28e+01", " 1.45e-01", "-9.71e+02", " 2.10e-01"]
max_text = [" 1.67e+01", " 1.96e+01", " 1.28e+01", " 2.39e+01", "-5.20e+02", " 2.24e+01"]

observed = [bz_obs, by_obs, bx_obs, dp_obs, vsw_obs, nsw_obs]
modelled = [bz_model, by_model, bx_model, dp_model, vsw_model, nsw_model]

# ---------------------------------------------------------------------------
W, H = 1767, 1184
LEFT_PX = 191.5
PANEL_TOP = [7.9, 206.2, 404.6, 601.8, 800.1, 998.4]
PANEL_BOT = [165.7, 362.9, 560.1, 758.4, 956.7, 1155.1]
NAME_X = [16, 16, 16, 11, 12, 9]
NAME_Y = [49, 276, 473, 699, 910, 1108]
MIN_DX = [99, 99, 99, 99, 105, 103]
MAX_DX = [264, 264, 264, 256, 266, 257]
MARK_PX = LEFT_PX + (W - LEFT_PX) * T_MARK / T_MAX

FRAME = "#9a4c4c"
MID = "#b48484"
RED = "#f22a2a"
SANS = "Liberation Sans, Arial, sans-serif"
SERIF = "DejaVu Serif, serif"

NB = "\u00a0"


def nb(s):
    return s.replace(" ", NB)


fig = go.Figure()
layout = dict(width=W, height=H, margin=dict(l=0, r=0, t=0, b=0),
              paper_bgcolor="white", plot_bgcolor="white", showlegend=False)
shapes, annotations = [], []

for i in range(6):
    k = i + 1
    xa = "x" if k == 1 else f"x{k}"
    ya = "y" if k == 1 else f"y{k}"
    xkey = "xaxis" if k == 1 else f"xaxis{k}"
    ykey = "yaxis" if k == 1 else f"yaxis{k}"

    mt, mv = zip(*modelled[i])
    ot, ov = zip(*observed[i])
    fig.add_trace(go.Scatter(x=mt, y=mv, xaxis=xa, yaxis=ya, mode="lines",
                             line=dict(color=RED, width=2, shape="spline", smoothing=0.6),
                             hoverinfo="skip"))
    fig.add_trace(go.Scatter(x=ot, y=ov, xaxis=xa, yaxis=ya, mode="lines",
                             line=dict(color="black", width=1.8),
                             hoverinfo="skip"))

    layout[xkey] = dict(domain=[LEFT_PX / W, 1.0], range=[0, T_MAX], anchor=ya,
                        showgrid=False, zeroline=False, showline=False,
                        ticks="inside", ticklen=6, tickwidth=1.2, tickcolor=FRAME,
                        tick0=0, dtick=1, mirror="ticks", showticklabels=False,
                        fixedrange=True)
    layout[ykey] = dict(domain=[1 - PANEL_BOT[i] / H, 1 - PANEL_TOP[i] / H],
                        range=[range_min[i], range_max[i]], anchor=xa,
                        showgrid=False, zeroline=False, showline=False,
                        showticklabels=False, ticks="", fixedrange=True)

    xd, yd = f"{xa} domain", f"{ya} domain"
    # centre line
    shapes.append(dict(type="line", xref=xd, yref=yd, x0=0, x1=1, y0=0.5, y1=0.5,
                       line=dict(color=MID, width=2), layer="below"))
    # marker of the model start time
    shapes.append(dict(type="line", xref=xa, yref=yd, x0=T_MARK, x1=T_MARK, y0=0, y1=1,
                       line=dict(color=FRAME, width=1), layer="below"))
    # open frame: top, bottom and left edges
    for (x0, x1, y0, y1) in [(0, 1, 1, 1), (0, 1, 0, 0), (0, 0, 0, 1)]:
        shapes.append(dict(type="line", xref=xd, yref=yd, x0=x0, x1=x1, y0=y0, y1=y1,
                           line=dict(color=FRAME, width=1.6), layer="below"))

    # big panel name on the left
    annotations.append(dict(x=NAME_X[i] / W, y=1 - NAME_Y[i] / H, xref="paper", yref="paper",
                            text=panel_names[i], showarrow=False, xanchor="left", yanchor="middle",
                            font=dict(family=SANS, size=46, color="black")))

    # captions under the panel: black at the left edge, red at the model start line
    cy = 1 - (PANEL_BOT[i] + 16) / H
    for x0, col in [(LEFT_PX, "black"), (MARK_PX, "#ff1a1a")]:
        parts = [(0, caption_names[i]),
                 (MIN_DX[i], nb("min = " + min_text[i])),
                 (MAX_DX[i], nb("max = " + max_text[i]))]
        for dx, txt in parts:
            annotations.append(dict(x=(x0 + dx) / W, y=cy, xref="paper", yref="paper",
                                    text=txt, showarrow=False, xanchor="left", yanchor="middle",
                                    font=dict(family=SERIF, size=17.5, color=col)))

layout["shapes"] = shapes
layout["annotations"] = annotations
fig.update_layout(**layout)
fig.write_html("out.html")
